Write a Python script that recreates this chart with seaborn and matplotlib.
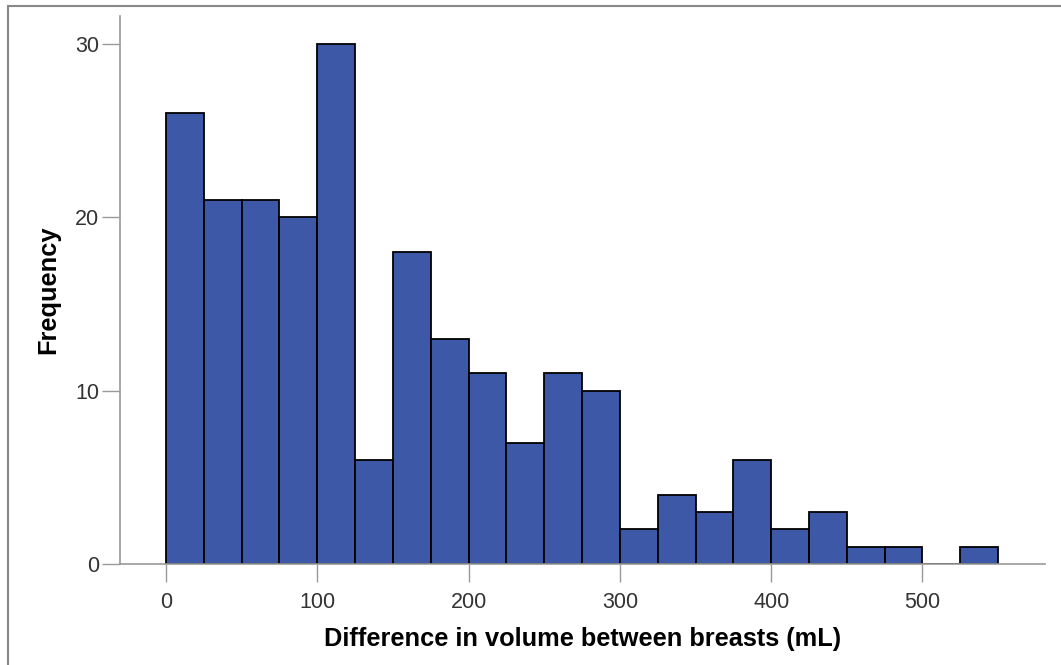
import matplotlib
matplotlib.use("Agg")
import matplotlib.pyplot as plt
import seaborn as sns
import numpy as np
import pandas as pd
from matplotlib.patches import Rectangle

# Data: histogram bins of width 25 mL
bin_edges = [0, 25, 50, 75, 100, 125, 150, 175, 200, 225, 250, 275, 300,
             325, 350, 375, 400, 425, 450, 475, 500, 525, 550]
counts = [26, 21, 21, 20, 30, 6, 18, 13, 11, 7, 11, 10,
          2, 4, 3, 6, 2, 3, 1, 1, 0, 1]
x_ticks = [0, 100, 200, 300, 400, 500]
y_ticks = [0, 10, 20, 30]
x_label = "Difference in volume between breasts (mL)"
y_label = "Frequency"

centers = [(a + b) / 2 for a, b in zip(bin_edges[:-1], bin_edges[1:])]
df = pd.DataFrame({"value": centers, "count": counts})

sns.set_style("white")
plt.rcParams["font.family"] = ["Liberation Sans", "DejaVu Sans"]

fig = plt.figure(figsize=(10.61, 6.65), dpi=100)
ax = fig.add_axes([120 / 1061, 1 - 564 / 665, (1045 - 120) / 1061, (564 - 16) / 665])

sns.histplot(data=df, x="value", weights="count", bins=bin_edges, ax=ax,
             color="#3D58A6", alpha=1, edgecolor="black", linewidth=1.3)

ax.set_xlim(-30.4, 581)
ax.set_ylim(0, 31.62)
ax.set_xticks(x_ticks)
ax.set_yticks(y_ticks)
ax.tick_params(axis="both", which="major", bottom=True, left=True,
               length=13, width=1, color="#999999",
               labelsize=15.5, labelcolor="#333333", direction="out")
ax.tick_params(axis="x", pad=7)
ax.tick_params(axis="y", pad=2)

for side in ["top", "right"]:
    ax.spines[side].set_visible(False)
for side in ["left", "bottom"]:
    ax.spines[side].set_visible(True)
    ax.spines[side].set_color("#999999")
    ax.spines[side].set_linewidth(1.2)

ax.set_xlabel(x_label, fontsize=18.3, fontweight="bold", color="black", labelpad=10)
ax.set_ylabel(y_label, fontsize=18.3, fontweight="bold", color="black", labelpad=11)

# outer gray frame (cut off at right and bottom)
fig.patches.append(Rectangle((8 / 1061, -0.1), 1.2, 1 - 6 / 665 + 0.1,
                             transform=fig.transFigure, fill=False,
                             edgecolor="#888888", linewidth=1.5, zorder=10))

fig.savefig("out.png", dpi=100)
